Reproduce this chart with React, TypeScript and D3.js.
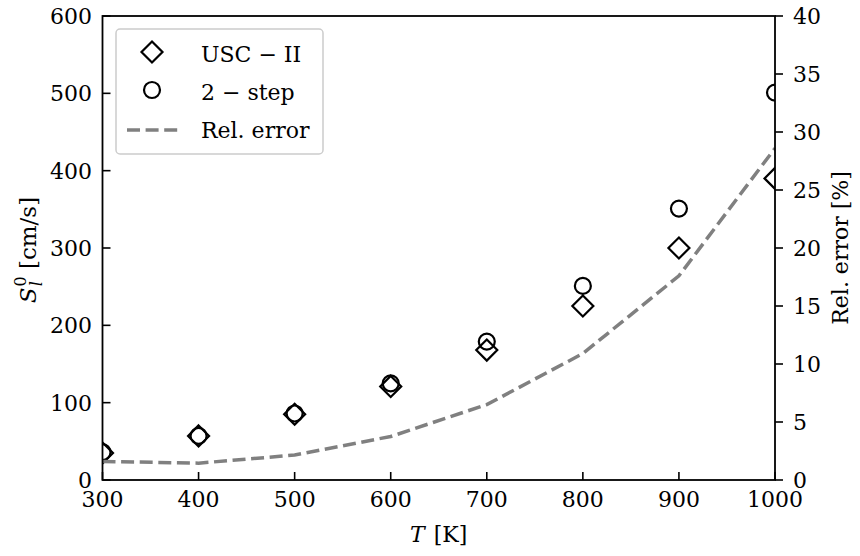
import React from "react";
import * as d3 from "d3";

const temperatures = [300, 400, 500, 600, 700, 800, 900, 1000];
const uscII = [35, 57, 85, 121, 168, 225, 300, 390];
const twoStep = [36, 57, 86, 125, 179, 251, 351, 501];
const relError = [1.6, 1.45, 2.15, 3.75, 6.5, 10.9, 17.6, 28.6];
const xTicks = [300, 400, 500, 600, 700, 800, 900, 1000];
const yLeftTicks = [0, 100, 200, 300, 400, 500, 600];
const yRightTicks = [0, 5, 10, 15, 20, 25, 30, 35, 40];

const W = 860;
const H = 556;
const L = 102.5;
const R = 775;
const T = 16;
const B = 480;
const FONT = "DejaVu Serif, Liberation Serif, serif";
const FS = 22;

export default function App() {
  const x = d3.scaleLinear().domain([300, 1000]).range([L, R]);
  const yL = d3.scaleLinear().domain([0, 600]).range([B, T]);
  const yR = d3.scaleLinear().domain([0, 40]).range([B, T]);

  const line = d3
    .line<number>()
    .x((_, i) => x(temperatures[i]))
    .y((d) => yR(d));

  const diamond = (s: number) => `M0,${-s}L${s},0L0,${s}L${-s},0Z`;
  const ts: React.CSSProperties = { fontFamily: FONT, fontSize: FS };

  return (
    <svg
      width={W}
      height={H}
      style={{ position: "absolute", left: 0, top: 0, background: "#fff", fontFamily: FONT }}
    >
      <defs>
        <clipPath id="plotClip">
          <rect x={L} y={T} width={R - L} height={B - T} />
        </clipPath>
      </defs>
      <rect x={0} y={0} width={W} height={H} fill="#fff" />

      <g clipPath="url(#plotClip)">
        {temperatures.map((t, i) => (
          <path
            key={"d" + t}
            d={diamond(10.5)}
            transform={`translate(${x(t)},${yL(uscII[i])})`}
            fill="none"
            stroke="#000"
            strokeWidth={2.2}
          />
        ))}
        {temperatures.map((t, i) => (
          <circle
            key={"c" + t}
            cx={x(t)}
            cy={yL(twoStep[i])}
            r={8}
            fill="none"
            stroke="#000"
            strokeWidth={2.2}
          />
        ))}
        <path
          d={line(relError) || ""}
          fill="none"
          stroke="#808080"
          strokeWidth={3.5}
          strokeDasharray="13,5.6"
        />
      </g>

      {/* spines */}
      <rect x={L} y={T} width={R - L} height={B - T} fill="none" stroke="#000" strokeWidth={1.8} />

      {/* x ticks */}
      {xTicks.map((t) => (
        <g key={"xt" + t}>
          <line x1={x(t)} x2={x(t)} y1={B} y2={B - 8} stroke="#000" strokeWidth={1.6} />
          <text x={x(t)} y={507} textAnchor="middle" style={ts}>
            {t}
          </text>
        </g>
      ))}

      {/* left ticks */}
      {yLeftTicks.map((t) => (
        <g key={"yl" + t}>
          <line x1={L} x2={L + 8} y1={yL(t)} y2={yL(t)} stroke="#000" strokeWidth={1.6} />
          <text x={92} y={yL(t) + 8} textAnchor="end" style={ts}>
            {t}
          </text>
        </g>
      ))}

      {/* right ticks */}
      {yRightTicks.map((t) => (
        <g key={"yr" + t}>
          <line x1={R} x2={R + 8} y1={yR(t)} y2={yR(t)} stroke="#000" strokeWidth={1.6} />
          <text x={793} y={yR(t) + 8} textAnchor="start" style={ts}>
            {t}
          </text>
        </g>
      ))}

      {/* x label */}
      <text x={(L + R) / 2} y={542} textAnchor="middle" style={ts}>
        <tspan fontStyle="italic">T</tspan>
        <tspan dx={9}>[K]</tspan>
      </text>

      {/* left y label */}
      <text
        transform={`translate(36,${(T + B) / 2 + 2}) rotate(-90)`}
        textAnchor="middle"
        style={{ fontFamily: FONT, fontSize: 23 }}
      >
        <tspan fontStyle="italic">S</tspan>
        <tspan style={{ fontSize: 16 }} dx={1} dy={-10}>0</tspan>
        <tspan style={{ fontSize: 16, fontStyle: "italic" }} dx={-10} dy={16}>l</tspan>
        <tspan dx={12} dy={-6}>[cm/s]</tspan>
      </text>

      {/* right y label */}
      <text
        transform={`translate(848,${(T + B) / 2}) rotate(-90)`}
        textAnchor="middle"
        style={ts}
      >
        Rel. error [%]
      </text>

      {/* legend */}
      <g>
        <rect
          x={116}
          y={29}
          width={207}
          height={125}
          rx={4}
          fill="#fff"
          fillOpacity={0.8}
          stroke="#cccccc"
          strokeWidth={1.5}
        />
        <path
          d={diamond(10.5)}
          transform="translate(152,52)"
          fill="none"
          stroke="#000"
          strokeWidth={2.2}
        />
        <text x={201} y={62} style={ts}>
          USC − II
        </text>
        <circle cx={152} cy={90} r={8} fill="none" stroke="#000" strokeWidth={2.2} />
        <text x={201} y={100} style={ts}>
          2 − step
        </text>
        <line
          x1={127}
          x2={180}
          y1={130}
          y2={130}
          stroke="#808080"
          strokeWidth={3.5}
          strokeDasharray="13,5.6"
        />
        <text x={201} y={138} style={ts}>
          Rel. error
        </text>
      </g>
    </svg>
  );
}
